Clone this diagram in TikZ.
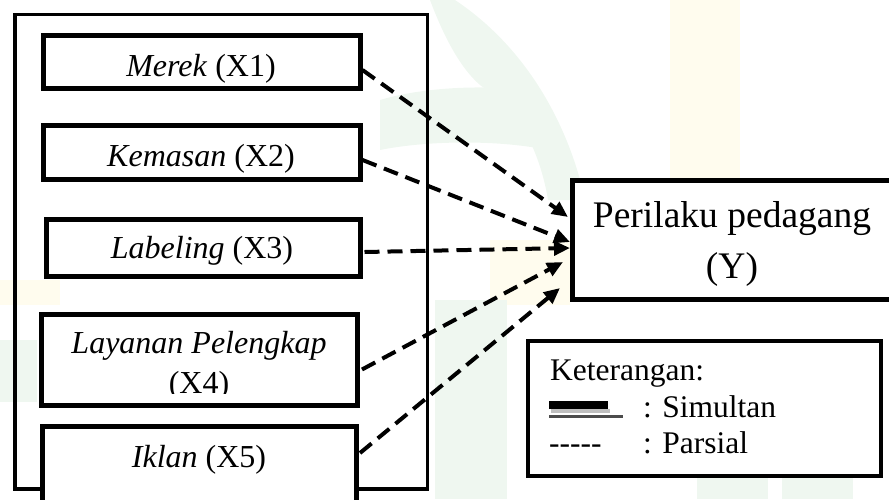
\documentclass[tikz,border=0pt]{standalone}
\usepackage{fontspec}
\setmainfont{Liberation Serif}
\usetikzlibrary{arrows.meta}
\definecolor{wmgreen}{RGB}{239,247,240}
\definecolor{wmyellow}{RGB}{255,252,238}
\tikzset{
  varbox/.style={draw, line width=5pt, fill=white, inner sep=0pt},
  lbl/.style={font=\fontsize{32}{40}\selectfont, anchor=base, inner sep=0pt},
  legtxt/.style={font=\fontsize{31.5}{36}\selectfont, anchor=base west, inner sep=0pt},
  partial/.style={line width=4pt, dash pattern=on 15pt off 8pt,
    -{Triangle[length=16pt,width=14pt]}},
}
\begin{document}
\begin{tikzpicture}[x=1pt,y=-1pt]
\useasboundingbox (0,0) rectangle (889,499);
\clip (0,0) rectangle (889,499);

% faint background emblem
\fill[wmyellow] (670,0) rectangle (740,180);
\fill[wmyellow] (490,240) rectangle (570,305);
\fill[wmyellow] (0,280) rectangle (60,305);
\fill[wmgreen] (435,300) rectangle (507,499);
\fill[wmgreen] (697,470) rectangle (768,499);
\fill[wmgreen] (782,470) rectangle (853,499);
\fill[wmgreen] (0,340) rectangle (37,402);
\fill[wmgreen] (430,0) -- (455,0) .. controls (530,50) and (570,130) .. (585,200)
  -- (548,200) .. controls (540,150) and (515,105) .. (490,92)
  .. controls (465,78) and (445,40) .. cycle;
\fill[wmgreen] (380,100) .. controls (430,85) and (500,85) .. (535,92)
  -- (548,150) .. controls (500,140) and (430,140) .. (380,150) -- cycle;

% frame around the independent variables
\draw[line width=3.5pt] (15,14.5) rectangle (427.5,489);

% independent variables
\node[varbox, minimum width=317pt, minimum height=53pt] (x1) at (201.5,61.5) {};
\node[varbox, minimum width=317pt, minimum height=54pt] (x2) at (201.5,152) {};
\node[varbox, minimum width=314pt, minimum height=57pt] (x3) at (203,247.5) {};
\node[varbox, minimum width=316pt, minimum height=91pt] (x4) at (199.5,359.5) {};
\node[varbox, minimum width=314pt, minimum height=114pt] (x5) at (199.5,483) {};

\node[lbl] (t1) at (201,76) {\textit{Merek} (X1)};
\node[lbl] (t2) at (201,166) {\textit{Kemasan} (X2)};
\node[lbl] (t3) at (202,258) {\textit{Labeling} (X3)};
\node[lbl] (t4) at (199,353) {\textit{Layanan Pelengkap}};
\begin{scope}
  \clip (45,360) rectangle (355,393);
  \node[lbl] (t4b) at (199,393) {(X4)};
\end{scope}
\node[lbl] (t5) at (199,467) {\textit{Iklan} (X5)};

% dependent variable
\node[draw, line width=5pt, fill=white, inner sep=0pt,
      minimum width=319pt, minimum height=119.5pt] (y) at (732,240) {};
\node[font=\fontsize{37.5}{48}\selectfont, anchor=base, inner sep=0pt] (ty1) at (732,227) {Perilaku pedagang};
\node[font=\fontsize{37.5}{48}\selectfont, anchor=base, inner sep=0pt] (ty2) at (732,278) {(Y)};

% arrow targets on the left side of the dependent box
\coordinate (e1) at ([shift={(-2pt,23pt)}]y.west);
\coordinate (e2) at ([shift={(0pt,-2pt)}]y.west);
\coordinate (e3) at ([shift={(0pt,-8pt)}]y.west);
\coordinate (e4) at ([shift={(-7pt,-22pt)}]y.west);
\coordinate (e5) at ([shift={(-10pt,-48pt)}]y.west);

% partial effects
\draw[partial] ([yshift=-8.5pt]x1.east) -- (e1);
\draw[partial] ([yshift=-8pt]x2.east) -- (e2);
\draw[partial] ([shift={(2pt,-4.5pt)}]x3.east) -- (e3);
\draw[partial] ([shift={(2pt,-10pt)}]x4.east) -- (e4);
\draw[partial] ([shift={(1pt,30pt)}]x5.east) -- (e5);

% legend
\node[draw, line width=3.5pt, fill=white, inner sep=0pt,
      minimum width=353pt, minimum height=135pt] (leg) at (704.5,408.5) {};
\node[legtxt] (k0) at (550,380) {Keterangan:};
\node[legtxt] (k1) at (643,417) {: Simultan};
\node[legtxt] (k2) at (643,453) {: Parsial};
\node[legtxt] (k3) at (549,453) {-{}-{}-{}-{}-};
\draw[black!25, line width=4pt] (551,410.5) -- (610,410.5);
\draw[black!70, line width=3pt] (549,416.5) -- (623,416.5);
\draw[black, line width=8pt] (549,405) -- (608,405);
\end{tikzpicture}
\end{document}
